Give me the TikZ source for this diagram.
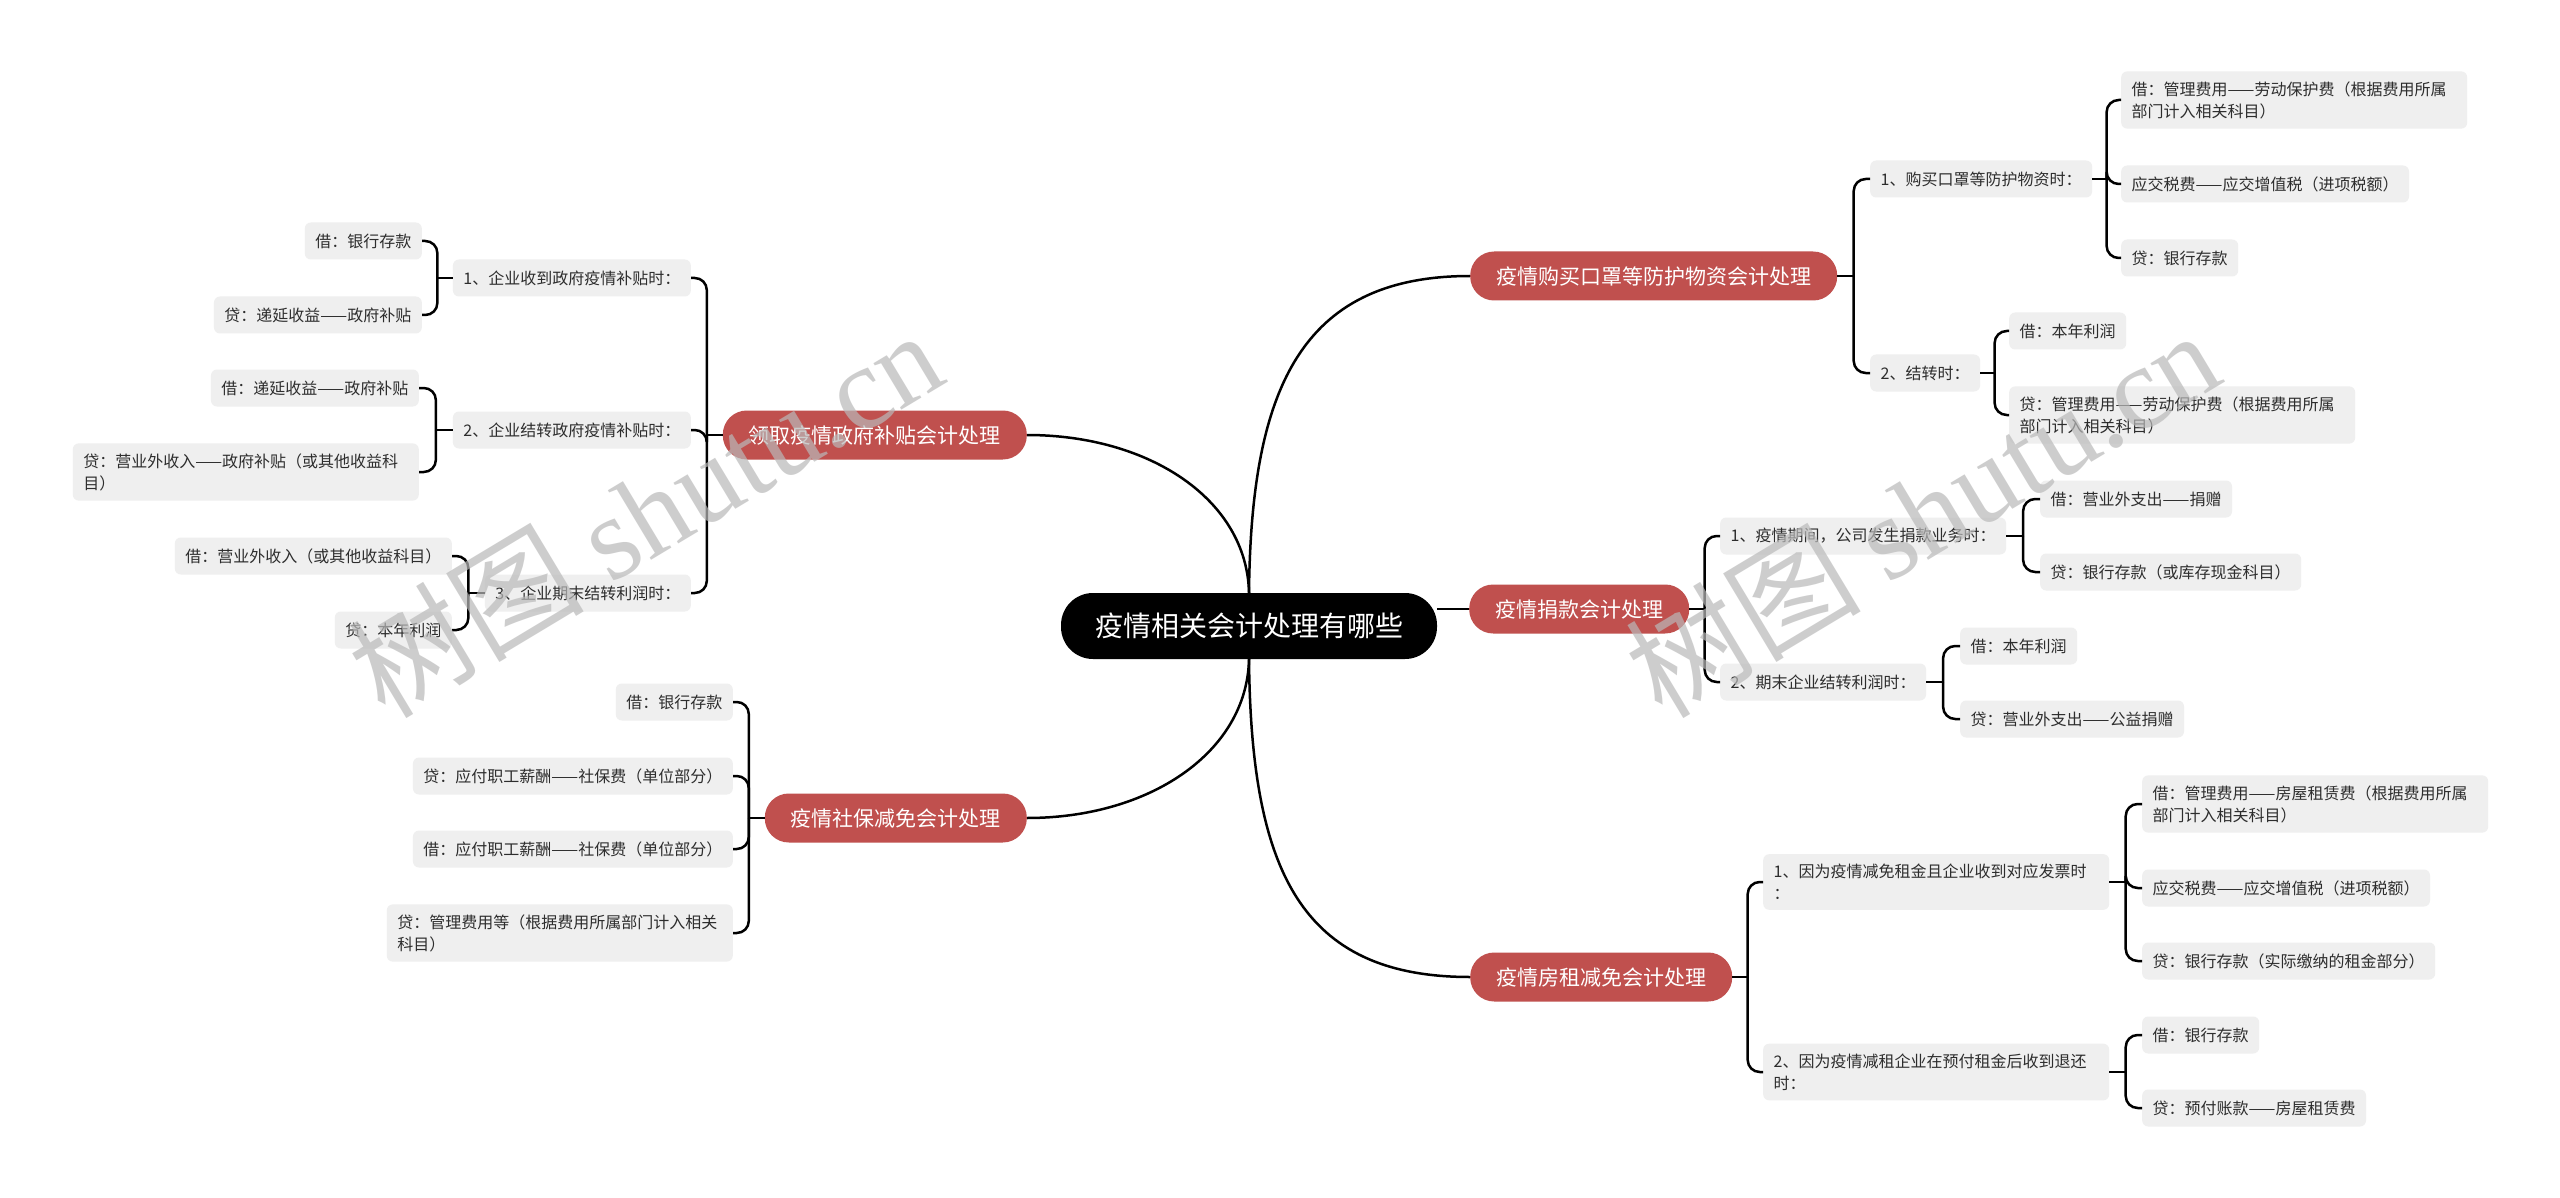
\documentclass[tikz,border=0pt]{standalone}
\usepackage{fontspec}
\setmainfont{Noto Sans CJK SC}
\newfontfamily\wmserif{Liberation Serif}
\usetikzlibrary{calc}
\definecolor{redc}{RGB}{192,80,78}
\definecolor{boxg}{RGB}{239,239,239}
\definecolor{txt}{RGB}{45,45,45}
\definecolor{wmc}{RGB}{185,185,185}
\newcommand\StemR[2]{\draw[conn] (#1.east) -- ($(#1.east)!0.5!(#1.east -| #2.west)$) coordinate (#1s);}
\newcommand\StemL[2]{\draw[conn] (#1.west) -- ($(#1.west)!0.5!(#1.west -| #2.east)$) coordinate (#1s);}
\newcommand\ToR[2]{\draw[spine] (#1s) |- (#2.west);}
\newcommand\ToL[2]{\draw[spine] (#1s) |- (#2.east);}
\begin{document}
\begin{tikzpicture}[x=1pt,y=-1pt,
  conn/.style={draw=black, line width=2.5pt},
  spine/.style={conn, rounded corners=12pt},
  gbox/.style={fill=boxg, rounded corners=6pt, inner xsep=10.5pt, inner ysep=10pt, minimum height=37pt, text=txt, font=\fontsize{16}{22}\selectfont, align=left},
  wbox/.style={gbox, text width=325pt},
  rnode/.style={fill=redc, rounded corners=24pt, inner xsep=26pt, inner ysep=0pt, minimum height=49pt, text=white, font=\fontsize{21}{26}\selectfont},
  rootn/.style={fill=black, rounded corners=32pt, inner xsep=34pt, inner ysep=0pt, minimum height=66pt, text=white, font=\fontsize{28}{34}\selectfont},
  wmark/.style={text=wmc, opacity=0.7, rotate=31, font=\fontsize{118}{128}\selectfont}
]
\useasboundingbox (0,0) rectangle (2560,1198);
\fill[white] (0,0) rectangle (2560,1198);

% root and main branches
\node[rootn] (root) at (1249,626) {疫情相关会计处理有哪些};
\node[rnode, anchor=east] (A) at (1027,435) {领取疫情政府补贴会计处理};
\node[rnode, anchor=east] (B) at (1027,818) {疫情社保减免会计处理};
\node[rnode, anchor=west] (C) at (1470,276) {疫情购买口罩等防护物资会计处理};
\node[rnode, anchor=west] (D) at (1469,609) {疫情捐款会计处理};
\node[rnode, anchor=west] (E) at (1470,977) {疫情房租减免会计处理};

% left group A
\node[gbox, anchor=east] (A1) at (691,278) {1、企业收到政府疫情补贴时：};
\node[gbox, anchor=east] (A1a) at (422,241) {借：银行存款};
\node[gbox, anchor=east] (A1b) at (422,315) {贷：递延收益——政府补贴};
\node[gbox, anchor=east] (A2) at (691,430) {2、企业结转政府疫情补贴时：};
\node[gbox, anchor=east] (A2a) at (419,388) {借：递延收益——政府补贴};
\node[wbox, anchor=east] (A2b) at (419,472) {贷：营业外收入——政府补贴（或其他收益科\\目）};
\node[gbox, anchor=east] (A3) at (691,593) {3、企业期末结转利润时：};
\node[gbox, anchor=east] (A3a) at (452,556) {借：营业外收入（或其他收益科目）};
\node[gbox, anchor=east] (A3b) at (452,630) {贷：本年利润};

% left group B
\node[gbox, anchor=east] (B1) at (733,702) {借：银行存款};
\node[gbox, anchor=east] (B2) at (733,776) {贷：应付职工薪酬——社保费（单位部分）};
\node[gbox, anchor=east] (B3) at (733,849) {借：应付职工薪酬——社保费（单位部分）};
\node[wbox, anchor=east] (B4) at (733,933) {贷：管理费用等（根据费用所属部门计入相关\\科目）};

% right group C
\node[gbox, anchor=west] (C1) at (1870,179) {1、购买口罩等防护物资时：};
\node[wbox, anchor=west] (C1a) at (2121,100) {借：管理费用——劳动保护费（根据费用所属\\部门计入相关科目）};
\node[gbox, anchor=west] (C1b) at (2121,184) {应交税费——应交增值税（进项税额）};
\node[gbox, anchor=west] (C1c) at (2121,258) {贷：银行存款};
\node[gbox, anchor=west] (C2) at (1870,373) {2、结转时：};
\node[gbox, anchor=west] (C2a) at (2009,331) {借：本年利润};
\node[wbox, anchor=west] (C2b) at (2009,415) {贷：管理费用——劳动保护费（根据费用所属\\部门计入相关科目）};

% right group D
\node[gbox, anchor=west] (D1) at (1720,536) {1、疫情期间，公司发生捐款业务时：};
\node[gbox, anchor=west] (D1a) at (2040,499) {借：营业外支出——捐赠};
\node[gbox, anchor=west] (D1b) at (2040,572) {贷：银行存款（或库存现金科目）};
\node[gbox, anchor=west] (D2) at (1720,682) {2、期末企业结转利润时：};
\node[gbox, anchor=west] (D2a) at (1960,646) {借：本年利润};
\node[gbox, anchor=west] (D2b) at (1960,719) {贷：营业外支出——公益捐赠};

% right group E
\node[wbox, anchor=west] (E1) at (1763,882) {1、因为疫情减免租金且企业收到对应发票时\\：};
\node[wbox, anchor=west] (E1a) at (2142,804) {借：管理费用——房屋租赁费（根据费用所属\\部门计入相关科目）};
\node[gbox, anchor=west] (E1b) at (2142,888) {应交税费——应交增值税（进项税额）};
\node[gbox, anchor=west] (E1c) at (2142,961) {贷：银行存款（实际缴纳的租金部分）};
\node[wbox, anchor=west] (E2) at (1763,1072) {2、因为疫情减租企业在预付租金后收到退还\\时：};
\node[gbox, anchor=west] (E2a) at (2142,1035) {借：银行存款};
\node[gbox, anchor=west] (E2b) at (2142,1108) {贷：预付账款——房屋租赁费};

% root connectors
\draw[conn] (root.north) .. controls (1251,390) and (1300,276) .. (C.west);
\draw[conn] (root.north) .. controls (1247,500) and (1150,435) .. (A.east);
\draw[conn] (root.south) .. controls (1247,752) and (1150,818) .. (B.east);
\draw[conn] (root.south) .. controls (1251,870) and (1300,977) .. (E.west);
\draw[conn] (root.east |- D.west) -- (D.west);

% brackets left
\StemL{A}{A1} \ToL{A}{A1} \ToL{A}{A2} \ToL{A}{A3}
\StemL{A1}{A1a} \ToL{A1}{A1a} \ToL{A1}{A1b}
\StemL{A2}{A2a} \ToL{A2}{A2a} \ToL{A2}{A2b}
\StemL{A3}{A3a} \ToL{A3}{A3a} \ToL{A3}{A3b}
\StemL{B}{B1} \ToL{B}{B1} \ToL{B}{B2} \ToL{B}{B3} \ToL{B}{B4}

% brackets right
\StemR{C}{C1} \ToR{C}{C1} \ToR{C}{C2}
\StemR{C1}{C1a} \ToR{C1}{C1a} \ToR{C1}{C1b} \ToR{C1}{C1c}
\StemR{C2}{C2a} \ToR{C2}{C2a} \ToR{C2}{C2b}
\StemR{D}{D1} \ToR{D}{D1} \ToR{D}{D2}
\StemR{D1}{D1a} \ToR{D1}{D1a} \ToR{D1}{D1b}
\StemR{D2}{D2a} \ToR{D2}{D2a} \ToR{D2}{D2b}
\StemR{E}{E1} \ToR{E}{E1} \ToR{E}{E2}
\StemR{E1}{E1a} \ToR{E1}{E1a} \ToR{E1}{E1b} \ToR{E1}{E1c}
\StemR{E2}{E2a} \ToR{E2}{E2a} \ToR{E2}{E2b}

% watermarks
\node[wmark] (wm1) at (645,512) {树图 {\wmserif shutu.cn}};
\node[wmark] (wm2) at (1922,512) {树图 {\wmserif shutu.cn}};
\end{tikzpicture}
\end{document}
